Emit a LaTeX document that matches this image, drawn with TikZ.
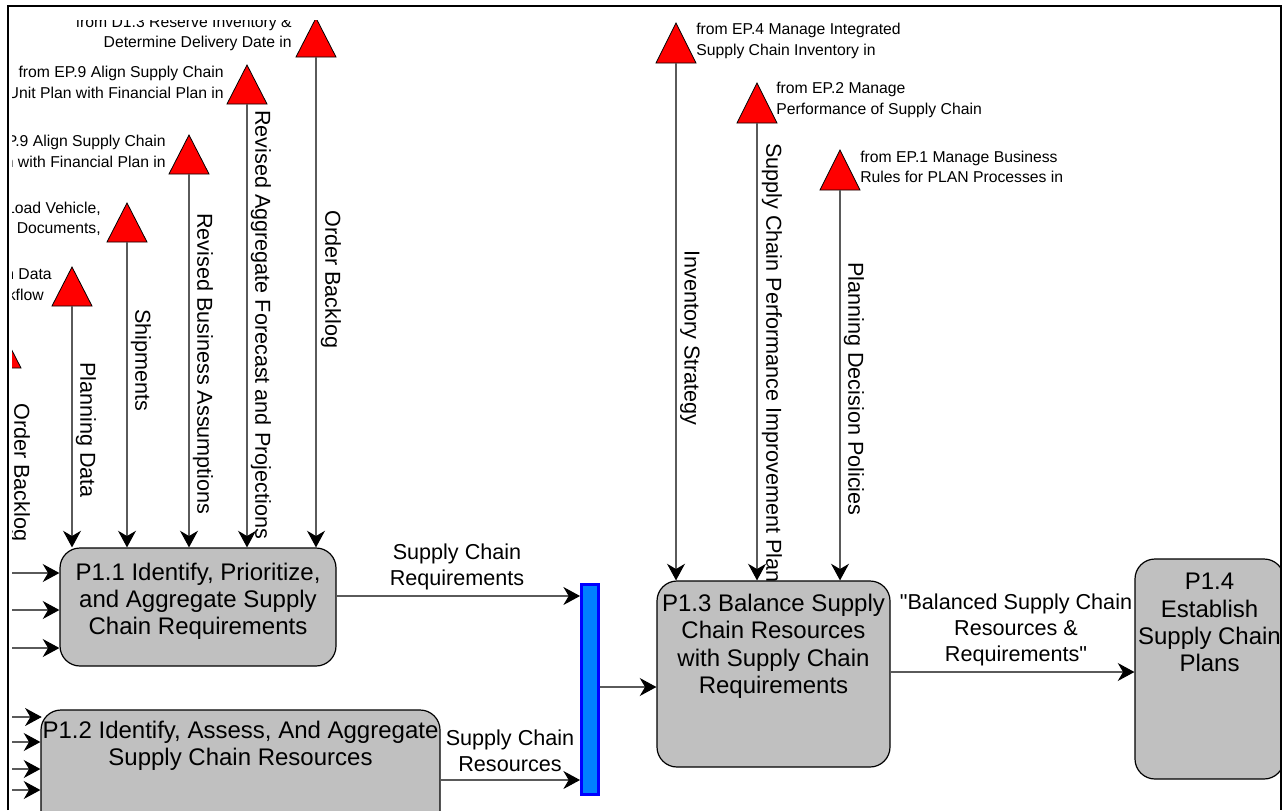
\documentclass[tikz,border=0pt]{standalone}
\usepackage{fontspec}
\setmainfont{Liberation Sans}[Ligatures=TeXOff]
\usetikzlibrary{arrows.meta}
\definecolor{procgray}{RGB}{192,192,192}
\definecolor{barfill}{RGB}{0,128,255}
\definecolor{barline}{RGB}{0,0,255}
\definecolor{trired}{RGB}{255,0,0}
\definecolor{flowgray}{RGB}{90,90,90}
\tikzset{
  flow/.style={draw=flowgray, line width=0.8pt,
    -{Stealth[length=12.5pt,width=13.5pt,inset=4pt,color=black]}},
  proc/.style={draw=black, line width=0.9pt, fill=procgray, inner sep=0pt,
    rounded corners=15pt, font=\fontsize{18}{20.4}\selectfont},
  vlab/.style={rotate=-90, anchor=west, inner sep=0pt, font=\fontsize{16.2}{19}\selectfont},
  elab/.style={align=center, inner sep=0pt, font=\fontsize{16.2}{19.5}\selectfont},
  tlabr/.style={align=right, anchor=east, inner sep=0pt, font=\fontsize{11.8}{15.4}\selectfont},
  tlabl/.style={align=left, anchor=west, inner sep=0pt, font=\fontsize{11.8}{15.4}\selectfont},
  offpage/.style={fill=trired, draw=black, line width=0.6pt},
  barstyle/.style={fill=barfill, draw=barline, line width=2.2pt, inner sep=0pt,
    minimum width=12.75pt, minimum height=157.5pt},
  frameline/.style={draw=black, line width=1.5pt}
}
\newcommand{\redtri}[4]{%
  \filldraw[offpage] (#2-20,#4) -- (#2,#3) -- (#2+20,#4) -- cycle;
  \coordinate (#1) at (#2,#4);}
\newcommand{\ptext}[4]{\begin{minipage}[t][#2][t]{#1}\centering\vspace*{#3}#4\end{minipage}}
\begin{document}
\begin{tikzpicture}[x=0.75pt,y=-0.75pt]
\useasboundingbox (0,0) rectangle (1284,810);
\begin{scope}
\clip (12,20) rectangle (1280,810);
% off-page triangles
\redtri{tOB}{316}{18}{57}
\redtri{tRAF}{247}{65}{104}
\redtri{tRBA}{189}{135}{174}
\redtri{tSH}{127}{203}{242}
\redtri{tPD}{72}{267}{306}
\redtri{tOBx}{1}{329}{368}
\redtri{tINV}{676}{23}{63}
\redtri{tPERF}{757}{83}{123}
\redtri{tPOL}{840}{150}{190}
% triangle labels
\node[tlabr] (lOB) at (292,33.5) {from D1.3 Reserve Inventory \&\\Determine Delivery Date in};
\node[tlabr] (lRAF) at (224,82.5) {from EP.9 Align Supply Chain\\Unit Plan with Financial Plan in};
\node[tlabr] (lRBA) at (166,151.5) {from EP.9 Align Supply Chain\\Unit Plan with Financial Plan in};
\node[tlabr] (lSH) at (101,219.5) {from D1.11 Load Vehicle,\\Generate Shipping Documents,};
\node[tlabr] (lPD) at (52,284.5) {from EP.3 Manage Plan Data\\Collection and Workflow\hspace*{6pt}};
\node[tlabl] (lINV) at (696,41) {from EP.4 Manage Integrated\\Supply Chain Inventory in};
\node[tlabl] (lPERF) at (776,100) {from EP.2 Manage\\Performance of Supply Chain};
\node[tlabl] (lPOL) at (860,167) {from EP.1 Manage Business\\Rules for PLAN Processes in};
% vertical flow labels
\node[vlab] (vPD) at (86,362) {Planning Data};
\node[vlab] (vSH) at (141,309) {Shipments};
\node[vlab] (vRBA) at (203,213) {Revised Business Assumptions};
\node[vlab] (vRAF) at (261,110) {Revised Aggregate Forecast and Projections};
\node[vlab] (vOB) at (331,210) {Order Backlog};
\node[vlab] (vINV) at (690,250) {Inventory Strategy};
\node[vlab] (vPERF) at (772,143) {Supply Chain Performance Improvement Plan};
\node[vlab] (vPOL) at (854,262) {Planning Decision Policies};
\begin{scope}
\clip (0,300) rectangle (60,541);
\node[vlab] (vOBx) at (20,403) {Order Backlog};
\end{scope}
% edge labels
\node[elab] (eREQ) at (457,567) {Supply Chain\\Requirements};
\node[elab] (eRES) at (510,751) {Supply Chain\\Resources};
\node[elab] (eBAL) at (1016,630) {"Balanced Supply Chain\\Resources \&\\Requirements"};
% processes
\node[proc] (p11) at (198,607) {\ptext{207pt}{88.5pt}{11.4pt}{P1.1 Identify, Prioritize,\\and Aggregate Supply\\Chain Requirements}};
\node[proc] (p12) at (240.5,805) {\ptext{299.25pt}{142.5pt}{8.4pt}{P1.2 Identify, Assess, And Aggregate\\Supply Chain Resources}};
\node[proc] (p13) at (773.5,674) {\ptext{174.75pt}{139.5pt}{9.9pt}{P1.3 Balance Supply\\Chain Resources\\with Supply Chain\\Requirements}};
\node[proc] (p14) at (1209.5,669) {\ptext{111.75pt}{165pt}{10.8pt}{P1.4\\Establish\\Supply Chain\\Plans}};
\node[barstyle] (bar) at (590,689.5) {};
% flows from triangles
\draw[flow] (tPD) -- (tPD |- p11.north);
\draw[flow] (tSH) -- (tSH |- p11.north);
\draw[flow] (tRBA) -- (tRBA |- p11.north);
\draw[flow] (tRAF) -- (tRAF |- p11.north);
\draw[flow] (tOB) -- (tOB |- p11.north);
\draw[flow] (tINV) -- (tINV |- p13.north);
\draw[flow] (tPERF) -- (tPERF |- p13.north);
\draw[flow] (tPOL) -- (tPOL |- p13.north);
% inputs from the left edge
\coordinate (i1) at (0,573);
\coordinate (i2) at (0,610);
\coordinate (i3) at (0,648);
\coordinate (j1) at (0,717);
\coordinate (j2) at (0,742);
\coordinate (j3) at (0,769);
\coordinate (j4) at (0,790);
\draw[flow] (i1) -- (i1 -| p11.west);
\draw[flow] (i2) -- (i2 -| p11.west);
\draw[flow] (i3) -- (i3 -| p11.west);
\draw[flow] (j1) -- ([xshift=1pt]j1 -| p12.west);
\draw[flow] (j2) -- (j2 -| p12.west);
\draw[flow] (j3) -- (j3 -| p12.west);
\draw[flow] (j4) -- (j4 -| p12.west);
% main flows
\draw[flow] (p11.east |- 0,596) -- (bar.west |- 0,596);
\draw[flow] (p12.east |- 0,780) -- (bar.west |- 0,780);
\draw[flow] (bar.east |- 0,687) -- (p13.west |- 0,687);
\draw[flow] (p13.east |- 0,672) -- (p14.west |- 0,672);
\end{scope}
% window frame
\draw[frameline] (8,810) -- (8,6) -- (1281,6) -- (1281,810);
\end{tikzpicture}
\end{document}
